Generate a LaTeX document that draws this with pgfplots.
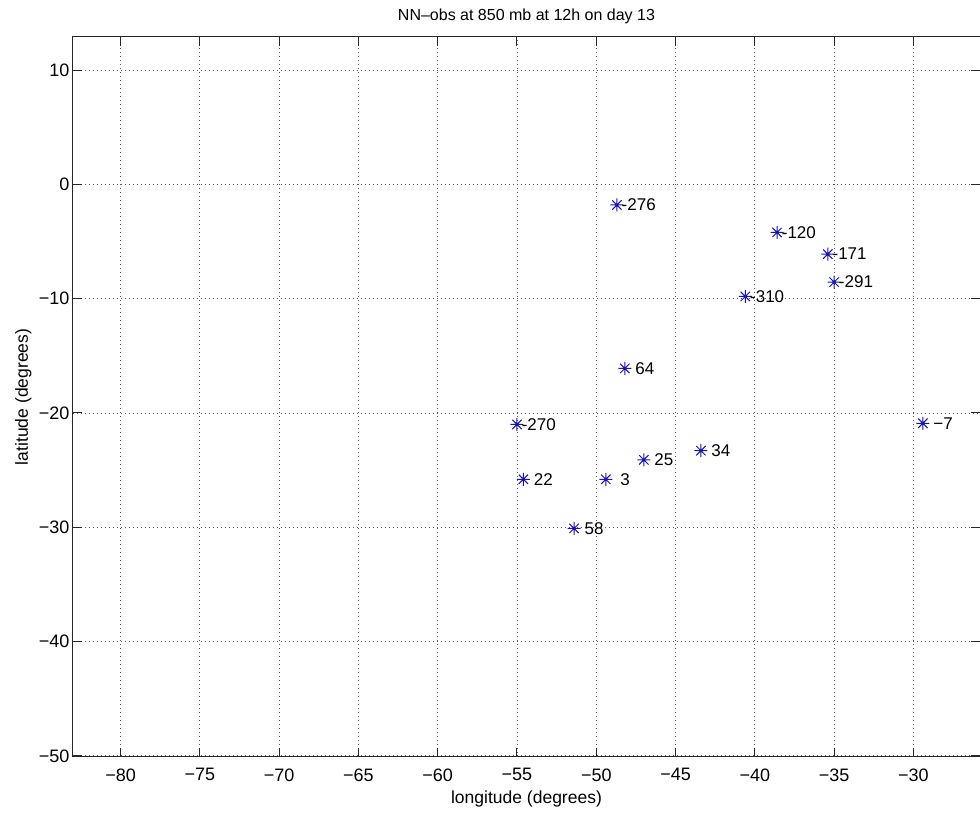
\documentclass[border=0pt]{standalone}
\usepackage{pgfplots}
\pgfplotsset{compat=1.18}
\usepackage{pgfplotstable}
\usepackage{fontspec}
\setmainfont{Liberation Sans}

\pgfdeclareplotmark{mstar}{%
 \pgfpathmoveto{\pgfpoint{-\pgfplotmarksize}{0pt}}\pgfpathlineto{\pgfpoint{\pgfplotmarksize}{0pt}}%
 \pgfpathmoveto{\pgfpoint{0pt}{-\pgfplotmarksize}}\pgfpathlineto{\pgfpoint{0pt}{\pgfplotmarksize}}%
 \pgfpathmoveto{\pgfpoint{-0.72\pgfplotmarksize}{-0.72\pgfplotmarksize}}\pgfpathlineto{\pgfpoint{0.72\pgfplotmarksize}{0.72\pgfplotmarksize}}%
 \pgfpathmoveto{\pgfpoint{-0.72\pgfplotmarksize}{0.72\pgfplotmarksize}}\pgfpathlineto{\pgfpoint{0.72\pgfplotmarksize}{-0.72\pgfplotmarksize}}%
 \pgfusepathqstroke}

\definecolor{mblue}{rgb}{0.08,0.08,0.72}

\pgfplotstableread{
x y lab
-48.7 -1.8 {\llap{-}276}
-38.6 -4.2 {\llap{-}120}
-35.4 -6.1 {\llap{-}171}
-35.0 -8.55 {\llap{-}291}
-40.6 -9.8 {\llap{-}310}
-48.2 -16.1 {64}
-55.0 -21.0 {\llap{-}270}
-54.6 -25.8 {22}
-49.4 -25.8 {\kern4pt 3}
-47.0 -24.1 {25}
-43.4 -23.3 {34}
-51.4 -30.1 {58}
-29.4 -20.9 {−7}
}\datatable

\begin{document}
\begin{tikzpicture}
\useasboundingbox (-73pt,-56pt) rectangle (907pt,757pt);
\begin{axis}[
  at={(0,0)}, anchor=south west,
  width=907pt, height=720pt, scale only axis,
  xmin=-83, xmax=-25.8, ymin=-50.1, ymax=12.9,
  xtick={-80,-75,...,-30},
  xticklabels={−80,−75,−70,−65,−60,−55,−50,−45,−40,−35,−30},
  ytick={-50,-40,...,10},
  yticklabels={−50,−40,−30,−20,−10,0,10},
  grid=major,
  major grid style={black!65, line width=0.8pt, dash pattern=on 1pt off 3pt},
  tick align=inside, major tick length=9pt,
  axis line style={black!85, line width=1pt},
  tick style={black!85, line width=1pt},
  ticklabel style={font=\fontsize{18}{21}\selectfont},
  xticklabel style={yshift=-8pt},
  title={NN–obs at 850 mb at 12h on day 13},
  title style={font=\fontsize{16}{19}\selectfont, at={(0.5,1)}, anchor=base, yshift=10pt},
  xlabel={longitude (degrees)},
  xlabel style={font=\fontsize{17.5}{20}\selectfont, at={(0.5,0)}, anchor=base, yshift=-47pt},
  ylabel={latitude (degrees)},
  ylabel style={font=\fontsize{17.5}{20}\selectfont, at={(0,0.5)}, anchor=base, yshift=45pt},
  clip=false,
]
\addplot[only marks, mark=mstar, mark size=6.5pt, mark options={draw=mblue, line width=1pt},
  point meta=explicit symbolic,
  nodes near coords,
  nodes near coords style={anchor=west, inner sep=0pt, xshift=10pt, text=black, font=\fontsize{17}{20}\selectfont}]
  table[x=x, y=y, meta=lab] {\datatable};
\end{axis}
\end{tikzpicture}
\end{document}
